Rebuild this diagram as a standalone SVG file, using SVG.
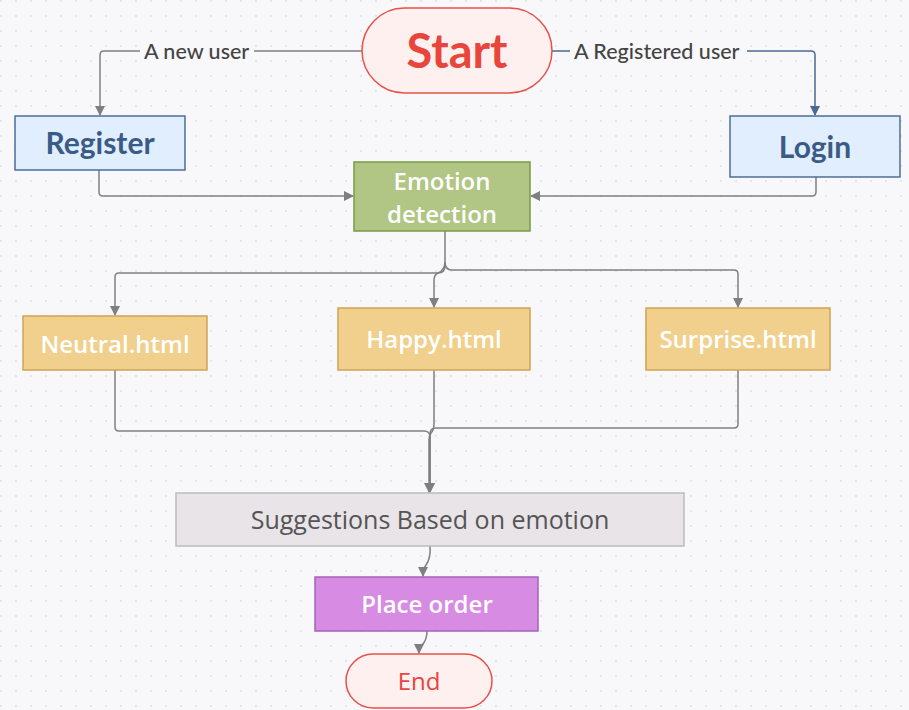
<svg xmlns="http://www.w3.org/2000/svg" width="909" height="710" viewBox="0 0 909 710">
<defs>
<pattern id="dots" x="0" y="0" width="15" height="15" patternUnits="userSpaceOnUse">
<circle cx="1" cy="1" r="0.9" fill="#dcdce3"/>
</pattern>
<marker id="ag" viewBox="0 0 10 10" refX="9" refY="5" markerWidth="10" markerHeight="10" markerUnits="userSpaceOnUse" orient="auto">
<path d="M0,0 L10,5 L0,10 z" fill="#7f7f7f"/>
</marker>
<marker id="ab" viewBox="0 0 10 10" refX="9" refY="5" markerWidth="10" markerHeight="10" markerUnits="userSpaceOnUse" orient="auto">
<path d="M0,0 L10,5 L0,10 z" fill="#4a6994"/>
</marker>
</defs>
<style>
.c{fill:none;stroke:#7f7f7f;stroke-width:1.5}
.cb{fill:none;stroke:#4a6994;stroke-width:1.5}
.lbl{font-family:Lato,"Open Sans",sans-serif;font-size:21.5px;fill:#444;font-weight:500}
.os{font-family:"Open Sans","Noto Sans",sans-serif;text-anchor:middle}
.w{fill:#fff;font-weight:600}
.blue{fill:#e0eefe;stroke:#4d6d9a;stroke-width:1.5}
.bt{font-family:Lato,"Open Sans",sans-serif;font-weight:700;font-size:30px;fill:#3b5b87;text-anchor:middle}
.yel{fill:#f0d08c;stroke:#cfa452;stroke-width:1.5}
.pill{fill:#fff0f0;stroke:#e8504a;stroke-width:1.5}
</style>
<rect width="909" height="710" fill="#f8f8fa"/>
<rect width="909" height="710" fill="url(#dots)"/>

<g id="connectors">
<path class="c" d="M362,51 H104 Q100,51 100,55 V115" marker-end="url(#ag)"/>
<rect x="140" y="38" width="114" height="25" fill="#f8f8fa"/>
<text class="lbl" x="144" y="59">A new user</text>
<path class="cb" d="M552,51 H811 Q815,51 815,55 V115" marker-end="url(#ab)"/>
<rect x="570" y="38" width="177" height="25" fill="#f8f8fa"/>
<text class="lbl" x="574" y="59">A Registered user</text>
<path class="c" d="M99,170 V192 Q99,196 103,196 H353" marker-end="url(#ag)"/>
<path class="c" d="M816,177 V192 Q816,196 812,196 H531" marker-end="url(#ag)"/>
<path class="c" d="M445,231 V266 Q445,273 438,273 H119 Q115,273 115,277 V315" marker-end="url(#ag)"/>
<path class="c" d="M445,262 Q445,270 438,273 Q434,275 434,280 V307" marker-end="url(#ag)"/>
<path class="c" d="M445,262 Q445,270 452,270 H734 Q738,270 738,274 V307" marker-end="url(#ag)"/>
<path class="c" d="M115,370 V427 Q115,431 119,431 H424 Q430,431 430,437 V492" marker-end="url(#ag)"/>
<path class="c" d="M434,370 V424 Q434,430 431,433 Q429,436 429,440 V492" marker-end="url(#ag)"/>
<path class="c" d="M738,370 V424 Q738,428 734,428 H436 Q430,428 430,434 V492" marker-end="url(#ag)"/>
<path class="c" d="M430,546 Q431,558 426,565 Q423,569 423,576" marker-end="url(#ag)"/>
<path class="c" d="M427,631 Q427,640 422,645 Q419,648 419,653" marker-end="url(#ag)"/>
</g>

<g id="start">
<rect class="pill" x="362" y="8" width="190" height="85" rx="42.5"/>
<text x="457" y="68" font-family="Lato,'Open Sans',sans-serif" font-weight="700" font-size="47" fill="#e8453c" text-anchor="middle">Start</text>
</g>
<g id="register">
<rect class="blue" x="15" y="116" width="170" height="54"/>
<text class="bt" x="100" y="154">Register</text>
</g>
<g id="login">
<rect class="blue" x="730" y="116" width="170" height="61"/>
<text class="bt" x="815" y="158">Login</text>
</g>
<g id="emotion">
<rect x="354" y="162" width="176" height="69" fill="#b1c584" stroke="#7b9a44" stroke-width="1.5"/>
<text class="os w" x="442" y="190" font-size="24">Emotion</text>
<text class="os w" x="442" y="223" font-size="24">detection</text>
</g>
<g id="neutral">
<rect class="yel" x="23" y="316" width="184" height="54"/>
<text class="os w" x="115" y="353" font-size="24">Neutral.html</text>
</g>
<g id="happy">
<rect class="yel" x="338" y="308" width="192" height="62"/>
<text class="os w" x="434" y="348" font-size="24">Happy.html</text>
</g>
<g id="surprise">
<rect class="yel" x="646" y="308" width="184" height="62"/>
<text class="os w" x="738" y="348" font-size="24">Surprise.html</text>
</g>
<g id="suggestions">
<rect x="176" y="493" width="508" height="53" fill="#e8e4e8" stroke="#bcbcbc" stroke-width="1.5"/>
<text class="os" x="430" y="529" font-size="25" fill="#555">Suggestions Based on emotion</text>
</g>
<g id="placeorder">
<rect x="315" y="577" width="223" height="54" fill="#d88be3" stroke="#a264b4" stroke-width="1.5"/>
<text class="os w" x="427" y="613" font-size="24">Place order</text>
</g>
<g id="end">
<rect class="pill" x="346" y="654" width="146" height="54" rx="27"/>
<text class="os" x="419" y="690" font-size="24" fill="#e8453c">End</text>
</g>
</svg>
